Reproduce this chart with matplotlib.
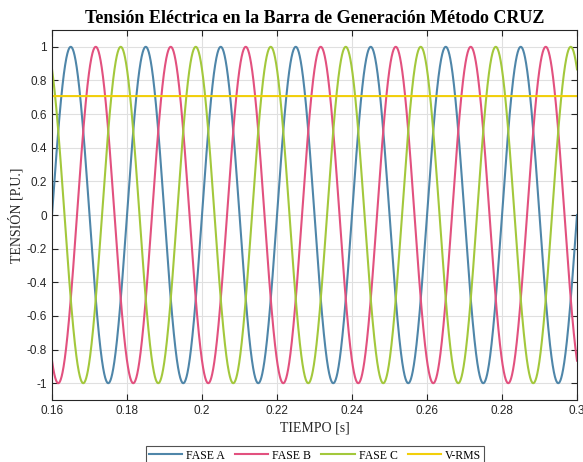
import numpy as np
import matplotlib.pyplot as plt

# values
freq_hz = 50.0
amplitude = 1.0
phase_deg = [0, -120, 120]          # FASE A, B, C
v_rms = 0.7071
t_start, t_end = 0.16, 0.30
series_names = ['FASE A', 'FASE B', 'FASE C', 'V-RMS']
colors = ['#4f86a9', '#e2517f', '#a3c83c', '#f2cf0a']
xticks = [0.16, 0.18, 0.2, 0.22, 0.24, 0.26, 0.28, 0.3]
yticks = [-1, -0.8, -0.6, -0.4, -0.2, 0, 0.2, 0.4, 0.6, 0.8, 1]

t = np.linspace(t_start, t_end, 3000)

fig = plt.figure(figsize=(5.83, 4.62), dpi=100)
ax = fig.add_axes([52/583, 62/462, 525/583, 370/462])

for ph, name, c in zip(phase_deg, series_names[:3], colors[:3]):
    v = amplitude * np.sin(2*np.pi*freq_hz*t + np.deg2rad(ph))
    ax.plot(t, v, color=c, lw=1.5, label=name)
ax.plot(t, np.full_like(t, v_rms), color=colors[3], lw=1.5, label=series_names[3])

ax.set_xlim(t_start, t_end)
ax.set_ylim(-1.1, 1.1)
ax.set_xticks(xticks)
ax.set_xticklabels([('%g' % x) for x in xticks])
ax.set_yticks(yticks)
ax.set_yticklabels([('%g' % y) for y in yticks])
ax.tick_params(direction='in', top=True, right=True, labelsize=8.5, length=4,
               width=0.8, colors='#262626')
for lab in ax.get_xticklabels() + ax.get_yticklabels():
    lab.set_fontfamily('Liberation Sans')
ax.grid(True, color='#e0e0e0', lw=0.8)
for s in ax.spines.values():
    s.set_color('#262626')
    s.set_linewidth(0.8)

ax.set_xlabel('TIEMPO [s]', fontfamily='Liberation Serif', fontsize=10, color='#262626', labelpad=3)
ax.set_ylabel('TENSIÓN [P.U.]', fontfamily='Liberation Serif', fontsize=10, color='#262626', labelpad=2)
ax.set_title('Tensión Eléctrica en la Barra de Generación Método CRUZ',
             fontfamily='Liberation Serif', fontweight='bold', fontsize=13, pad=5)

leg = fig.legend(loc='upper center', bbox_to_anchor=(315/583, 1 - 446/462), ncol=4,
                 prop={'family': 'Liberation Serif', 'size': 8.5}, frameon=True,
                 fancybox=False, edgecolor='#262626', handlelength=2.8,
                 columnspacing=0.85, borderpad=0.3, handletextpad=0.35, borderaxespad=0)
leg.get_frame().set_linewidth(0.8)

fig.savefig('out.png', dpi=100)
